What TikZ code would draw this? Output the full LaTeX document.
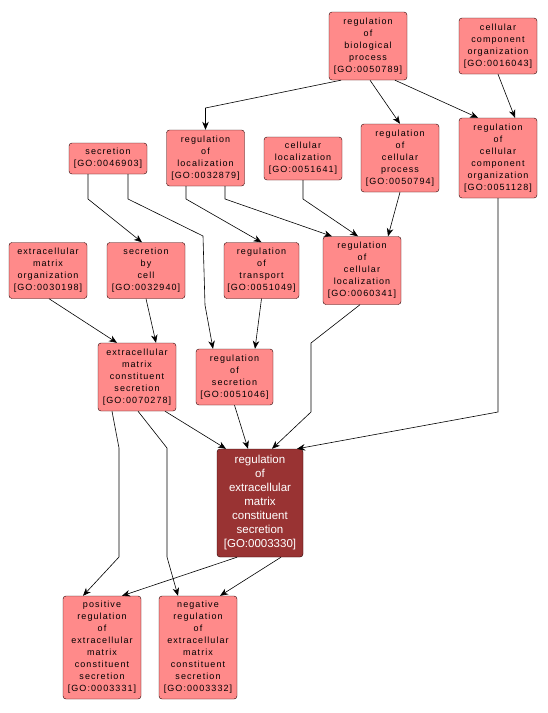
\documentclass[tikz,border=0pt]{standalone}
\usepackage{fontspec}
\setmainfont{Liberation Sans}
\newfontfamily\gofont[LetterSpace=12]{Liberation Sans}
\usepackage{tikz}
\usetikzlibrary{arrows.meta}
\definecolor{gofill}{RGB}{255,138,138}
\definecolor{gomain}{RGB}{153,51,51}
\definecolor{goline}{RGB}{40,0,0}

\begin{document}
\begin{tikzpicture}[x=1pt,y=-1pt,>={Stealth[length=8pt,width=6.5pt,inset=2.5pt]},
  gonode/.style={draw=goline,fill=gofill,rounded corners=3pt,inner sep=0pt,
    minimum width=78pt,align=center,font=\gofont\fontsize{9}{12}\selectfont},
  gomainnode/.style={gonode,fill=gomain,text=white,minimum width=86pt,
    font=\fontsize{11.5}{14}\selectfont},
  edge/.style={->,line width=0.6pt}]
  \useasboundingbox (0,0) rectangle (547,713);

  \node[gonode,minimum height=68pt] (bioproc) at (368,46)
    {regulation\\of\\biological\\process\\{[GO:0050789]}};
  \node[gonode,minimum height=56pt] (ccorg) at (498,46)
    {cellular\\component\\organization\\{[GO:0016043]}};
  \node[gonode,minimum height=31pt] (secr) at (108,158.5)
    {secretion\\{[GO:0046903]}};
  \node[gonode,minimum height=56pt] (regloc) at (205.5,158)
    {regulation\\of\\localization\\{[GO:0032879]}};
  \node[gonode,minimum height=43pt] (cellloc) at (303,158.5)
    {cellular\\localization\\{[GO:0051641]}};
  \node[gonode,minimum height=68pt] (regcellproc) at (400,158)
    {regulation\\of\\cellular\\process\\{[GO:0050794]}};
  \node[gonode,minimum height=80pt] (regccorg) at (498,158)
    {regulation\\of\\cellular\\component\\organization\\{[GO:0051128]}};
  \node[gonode,minimum height=68pt] (regcellloc) at (362,270.5)
    {regulation\\of\\cellular\\localization\\{[GO:0060341]}};
  \node[gonode,minimum height=56pt,minimum width=75pt] (regtransp) at (261.5,270.5)
    {regulation\\of\\transport\\{[GO:0051049]}};
  \node[gonode,minimum height=56pt] (ecmorg) at (48,270.5)
    {extracellular\\matrix\\organization\\{[GO:0030198]}};
  \node[gonode,minimum height=56pt] (secbycell) at (146,270.5)
    {secretion\\by\\cell\\{[GO:0032940]}};
  \node[gonode,minimum height=68pt] (ecmsec) at (137,377)
    {extracellular\\matrix\\constituent\\secretion\\{[GO:0070278]}};
  \node[gonode,minimum height=56pt,minimum width=77pt] (regsecr) at (234.5,377)
    {regulation\\of\\secretion\\{[GO:0051046]}};
  \node[gomainnode,minimum height=108pt] (regecm) at (260,503)
    {regulation\\of\\extracellular\\matrix\\constituent\\secretion\\{[GO:0003330]}};
  \node[gonode,minimum height=103pt] (posreg) at (102,647.5)
    {positive\\regulation\\of\\extracellular\\matrix\\constituent\\secretion\\{[GO:0003331]}};
  \node[gonode,minimum height=103pt] (negreg) at (198,647.5)
    {negative\\regulation\\of\\extracellular\\matrix\\constituent\\secretion\\{[GO:0003332]}};

  \draw[edge] ([xshift=-27pt]bioproc.south) -- (205.5,108) -- (regloc.north);
  \draw[edge] ([xshift=2pt]bioproc.south) -- (regcellproc.north);
  \draw[edge] ([xshift=27pt]bioproc.south) -- ([xshift=-20pt]regccorg.north);
  \draw[edge] (ccorg.south) -- ([xshift=17pt]regccorg.north);
  \draw[edge] ([xshift=-20pt]secr.south) -- (88,199) -- ([xshift=-4pt]secbycell.north);
  \draw[edge] ([xshift=20pt]secr.south) -- (128,199) -- (203,236) -- (205,305)
    -- ([xshift=-21.5pt]regsecr.north);
  \draw[edge] ([xshift=-19.5pt]regloc.south) -- (186,199) -- (regtransp.north);
  \draw[edge] ([xshift=19.5pt]regloc.south) -- (225,199) -- ([xshift=-30pt]regcellloc.north);
  \draw[edge] (cellloc.south) -- (303,199) -- ([xshift=-4pt]regcellloc.north);
  \draw[edge] (regcellproc.south) -- ([xshift=26pt]regcellloc.north);
  \draw[edge] (regccorg.south) -- (498,412) -- ([xshift=37pt]regecm.north);
  \draw[edge] ([xshift=-2pt]regcellloc.south) -- (311,343) -- (311,412)
    -- ([xshift=12pt]regecm.north);
  \draw[edge] ([xshift=1pt]ecmorg.south) -- ([xshift=-20pt]ecmsec.north);
  \draw[edge] (secbycell.south) -- ([xshift=19pt]ecmsec.north);
  \draw[edge] (regtransp.south) -- ([xshift=20.5pt]regsecr.north);
  \draw[edge] ([xshift=28pt]ecmsec.south) -- ([xshift=-34pt]regecm.north);
  \draw[edge] (regsecr.south) -- ([xshift=-12pt]regecm.north);
  \draw[edge] ([xshift=-25pt]ecmsec.south) -- (119,448) -- (119,557)
    -- ([xshift=-19pt]posreg.north);
  \draw[edge] ([xshift=1pt]ecmsec.south) -- (167,448) -- (167,557)
    -- ([xshift=-20pt]negreg.north);
  \draw[edge] ([xshift=-23pt]regecm.south) -- ([xshift=20pt]posreg.north);
  \draw[edge] ([xshift=21pt]regecm.south) -- ([xshift=22pt]negreg.north);
\end{tikzpicture}
\end{document}
